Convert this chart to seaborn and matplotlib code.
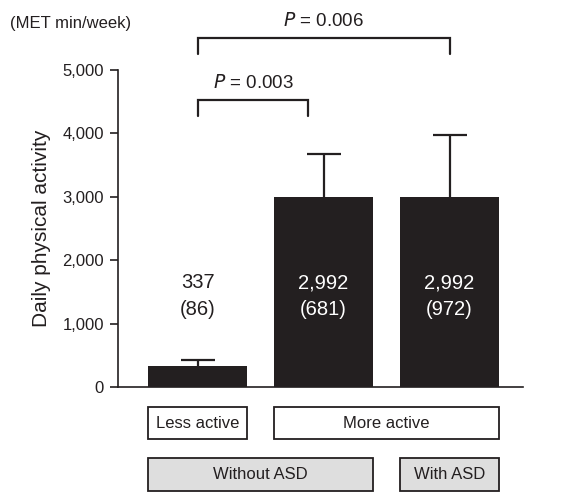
import matplotlib
matplotlib.use("Agg")
import matplotlib.pyplot as plt
from matplotlib.patches import Rectangle
import seaborn as sns
import pandas as pd

# values
groups = ["Less active / without ASD", "More active / without ASD", "More active / with ASD"]
means = [337, 2992, 2992]
sds = [86, 681, 972]
yticks = [0, 1000, 2000, 3000, 4000, 5000]
activity_boxes = [("Less active", -0.393, 0.393), ("More active", 0.607, 2.393)]
asd_boxes = [("Without ASD", -0.393, 1.393), ("With ASD", 1.607, 2.393)]
pvals = [("0.003", 0, 0.88, 4520, 4268), ("0.006", 0, 2, 5496, 5244)]

ink = "#231f20"
sns.set_style("white")
plt.rcParams["font.family"] = ["Liberation Sans", "DejaVu Sans"]

df = pd.DataFrame({"group": groups, "mean": means, "sd": sds})

fig = plt.figure(figsize=(5.66, 4.92), dpi=100)
ax = fig.add_axes([0.2085, 0.2134, 0.7155, 0.6453])

sns.barplot(data=df, x="group", y="mean", color=ink, saturation=1,
            width=0.786, errorbar=None, ax=ax)
for p in ax.patches:
    p.set_zorder(3)
    p.set_edgecolor(ink)
    p.set_linewidth(0)

# upper error bars only
eb = ax.errorbar(range(len(means)), means, yerr=[[0] * len(sds), sds], fmt="none",
                 ecolor=ink, elinewidth=1.6, capsize=12, capthick=1.6, zorder=1)
eb[1][0].set_visible(False)  # lower caps sit on the bar tops

for i, (m, s) in enumerate(zip(means, sds)):
    ax.text(i, 1430, f"{m:,}\n({s})", ha="center", va="center", fontsize=14.5,
            color=ink if i == 0 else "white", linespacing=1.5, zorder=4)

ax.set_xlim(-0.631, 2.583)
ax.set_ylim(0, 5000)
ax.set_yticks(yticks)
ax.set_yticklabels([f"{t:,}" for t in yticks])
ax.tick_params(axis="y", length=6, width=1.2, color=ink, labelsize=12,
               labelcolor=ink, pad=4, left=True)
ax.tick_params(axis="x", bottom=False, labelbottom=False)
ax.set_xlabel("")
ax.set_ylabel("Daily physical activity", fontsize=15, color=ink, labelpad=8)
sns.despine(ax=ax)
for sp in ["left", "bottom"]:
    ax.spines[sp].set_linewidth(1.2)
    ax.spines[sp].set_color(ink)
    ax.spines[sp].set_zorder(5)
ax.spines["left"].set_bounds(0, 5000)

fig.text(0.018, 0.953, "(MET min/week)", fontsize=12, color=ink, va="center")

# significance brackets
for p, x0, x1, ytop, yend in pvals:
    ax.plot([x0, x0, x1, x1], [yend, ytop, ytop, yend], color=ink, lw=1.6,
            clip_on=False, solid_joinstyle="miter")
    ax.text((x0 + x1) / 2, ytop + 270, f"$P$ = {p}", ha="center", va="center",
            fontsize=13.5, color=ink, clip_on=False)

# group boxes under the axis
tr = ax.get_xaxis_transform()
for boxes, y0, y1, fc in [(activity_boxes, -0.164, -0.063, "white"),
                          (asd_boxes, -0.3276, -0.2236, "#dedede")]:
    for label, x0, x1 in boxes:
        ax.add_patch(Rectangle((x0, y0), x1 - x0, y1 - y0, transform=tr,
                               facecolor=fc, edgecolor=ink, lw=1.3, clip_on=False))
        ax.text((x0 + x1) / 2, (y0 + y1) / 2, label, transform=tr, ha="center",
                va="center", fontsize=12, color=ink)

fig.savefig("out.png", dpi=100)
